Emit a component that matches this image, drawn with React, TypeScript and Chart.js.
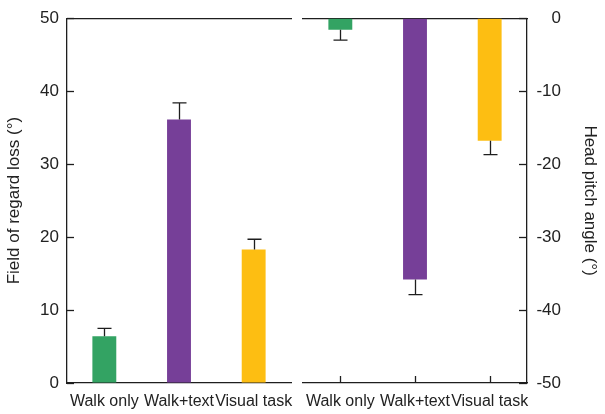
import React, { useEffect, useRef } from 'react';
import { Chart, registerables } from 'chart.js';
Chart.register(...registerables);

const categories = ['Walk only', 'Walk+text', 'Visual task'];
const regardLoss = [6.4, 36.1, 18.3];
const regardLossErr = [1.1, 2.3, 1.4];
const pitchAngle = [-1.6, -35.8, -16.8];
const pitchAngleErr = [1.4, 2.1, 1.9];
const barColors = ['#33A363', '#763F98', '#FDBE12'];

const FONT = "'Liberation Sans', Arial, sans-serif";
const AX = '#1e1e1e';
const TXT = '#222222';

const errorBarPlugin = {
  id: 'errorBars',
  afterDatasetsDraw(chart: any, _args: any, opts: any) {
    const ctx = chart.ctx;
    const meta = chart.getDatasetMeta(0);
    const yScale = chart.scales.y;
    const xScale = chart.scales.x;
    const area = chart.chartArea;
    const values = chart.data.datasets[0].data;
    ctx.save();
    ctx.strokeStyle = AX;
    ctx.lineWidth = 1.3;
    meta.data.forEach((bar: any, i: number) => {
      const v = values[i];
      const end = yScale.getPixelForValue(v + opts.dir * opts.errors[i]);
      const x = Math.round(bar.x) + 0.5;
      ctx.beginPath();
      ctx.moveTo(x, bar.y);
      ctx.lineTo(x, end);
      ctx.moveTo(x - 7, end);
      ctx.lineTo(x + 7, end);
      ctx.stroke();
    });
    // inward y ticks
    yScale.ticks.forEach((t: any) => {
      const y = Math.round(yScale.getPixelForValue(t.value)) + 0.5;
      ctx.beginPath();
      if (opts.side === 'left') {
        ctx.moveTo(area.left, y);
        ctx.lineTo(area.left + 7, y);
      } else {
        ctx.moveTo(area.right, y);
        ctx.lineTo(area.right - 8, y);
      }
      ctx.stroke();
    });
    if (opts.xTicks) {
      categories.forEach((_c, i) => {
        const x = Math.round(xScale.getPixelForValue(i)) + 0.5;
        ctx.beginPath();
        ctx.moveTo(x, area.bottom);
        ctx.lineTo(x, area.bottom - 7);
        ctx.stroke();
      });
    }
    ctx.restore();
  },
};

function makeConfig(side: 'left' | 'right'): any {
  const isLeft = side === 'left';
  const border = { display: true, color: AX, width: 1.3 };
  const gridOff = { display: true, drawOnChartArea: false, drawTicks: false };
  const noPad = (s: any) => { s.paddingLeft = 0; s.paddingRight = 0; };
  return {
    type: 'bar',
    data: {
      labels: categories,
      datasets: [
        {
          data: isLeft ? regardLoss : pitchAngle,
          backgroundColor: barColors,
          borderWidth: 0,
          barPercentage: 0.32,
          categoryPercentage: 1,
        },
      ],
    },
    options: {
      responsive: false,
      animation: false,
      devicePixelRatio: 1,
      layout: { padding: isLeft ? { top: 16, right: 6, left: 0, bottom: 0 } : { top: 16, right: 44, left: 6, bottom: 0 } },
      plugins: {
        legend: { display: false },
        tooltip: { enabled: false },
        errorBars: {
          errors: isLeft ? regardLossErr : pitchAngleErr,
          dir: isLeft ? 1 : -1,
          side,
          xTicks: !isLeft,
        },
      },
      scales: {
        x: {
          position: 'bottom',
          grid: gridOff,
          border,
          ticks: { font: { family: FONT, size: 16 }, color: TXT, padding: 9, maxRotation: 0, autoSkip: false },
          afterFit: (s: any) => { s.height = 31; noPad(s); },
        },
        xTop: {
          type: 'category',
          position: 'top',
          labels: categories,
          grid: gridOff,
          border,
          ticks: { display: false },
          afterFit: (s: any) => { s.height = 0; noPad(s); },
        },
        y: {
          position: side,
          min: isLeft ? 0 : -50,
          max: isLeft ? 50 : 0,
          grid: gridOff,
          border,
          ticks: {
            stepSize: 10,
            font: { family: FONT, size: 17 },
            color: TXT,
            padding: 8,
            crossAlign: isLeft ? 'near' : 'far',
          },
          title: {
            display: true,
            text: isLeft ? 'Field of regard loss (°)' : 'Head pitch angle (°)',
            font: { family: FONT, size: 17 },
            color: TXT,
            padding: { top: isLeft ? 4 : -39, bottom: 0 },
          },
          afterFit: (s: any) => { s.width = isLeft ? 67 : 34; },
        },
      },
    },
    plugins: [errorBarPlugin],
  };
}

function Panel({ side, left, width }: { side: 'left' | 'right'; left: number; width: number }) {
  const ref = useRef<HTMLCanvasElement>(null);
  useEffect(() => {
    if (!ref.current) return;
    const chart = new Chart(ref.current, makeConfig(side));
    return () => chart.destroy();
  }, [side]);
  return (
    <canvas
      ref={ref}
      width={width}
      height={414}
      style={{ position: 'absolute', left, top: 0, width, height: 414, display: 'block' }}
    />
  );
}

export default function App() {
  return (
    <div style={{ position: 'fixed', left: 0, top: 0, width: 605, height: 414, background: '#ffffff', overflow: 'hidden' }}>
      <Panel side="left" left={0} width={297} />
      <Panel side="right" left={297} width={308} />
    </div>
  );
}
